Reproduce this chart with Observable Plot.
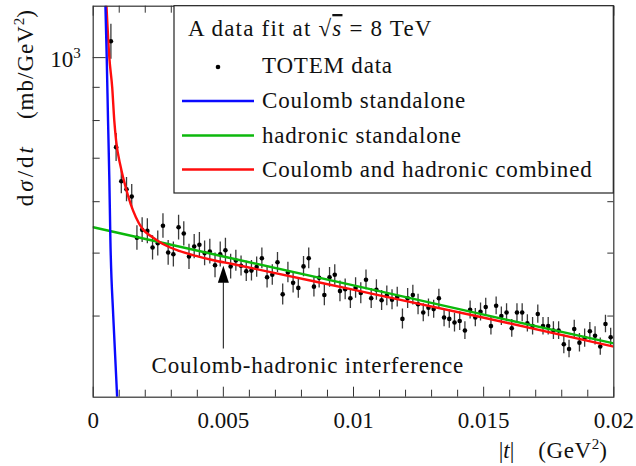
<!DOCTYPE html>
<html><head><meta charset="utf-8">
<script src="https://cdn.jsdelivr.net/npm/d3@7"></script>
<script src="https://cdn.jsdelivr.net/npm/@observablehq/plot@0.6"></script>
<style>
body{margin:0;background:#fff;}
#chart{position:relative;width:636px;height:466px;}
</style></head><body><div id="chart"></div>
<script>
// ---- data ----
const tData = [
0.00068,0.00088,0.00108,0.00128,0.00148,0.00168,0.00188,0.00208,0.00228,0.00248,
0.00268,0.00288,0.00308,0.00328,0.00348,0.00368,0.00388,0.00408,0.00428,0.00448,
0.00468,0.00488,0.00508,0.00528,0.00548,0.00568,0.00588,0.00608,0.00628,0.00648,
0.00668,0.00688,0.00708,0.00728,0.00748,0.00768,0.00788,0.00808,0.00828,0.00848,
0.00868,0.00888,0.00908,0.00928,0.00948,0.00968,0.00988,0.01008,0.01028,0.01048,
0.01068,0.01088,0.01108,0.01128,0.01148,0.01168,0.01188,0.01208,0.01228,0.01248,
0.01268,0.01288,0.01308,0.01328,0.01348,0.01368,0.01388,0.01408,0.01428,0.01448,
0.01468,0.01488,0.01508,0.01528,0.01548,0.01568,0.01588,0.01608,0.01628,0.01648,
0.01668,0.01688,0.01708,0.01728,0.01748,0.01768,0.01788,0.01808,0.01828,0.01848,
0.01868,0.01888,0.01908,0.01928,0.01948,0.01968,0.01988];
const sigmaData = [
1060,728,645,627,611,528,543,541,510,518,
551,501,498,548,536,494,512,515,500,503,
479,498,505,477,487,478,469,470,476,491,
459,463,484,432,467,450,442,477,491,444,
458,431,459,463,437,440,426,442,434,455,
426,439,423,430,424,428,396,426,431,417,
405,412,410,426,398,396,391,393,380,409,
398,406,413,386,415,400,405,383,405,405,
390,386,403,386,386,380,380,362,356,382,
364,370,379,373,359,389,371];
const sigmaErr = [
66,36,28,27,27,23,24,24,22,23,
24,22,22,24,23,22,22,23,22,22,
21,22,22,21,18,17,17,17,17,18,
17,17,17,16,17,16,16,17,18,16,
16,16,16,17,16,16,15,16,16,16,
15,16,15,15,15,15,14,15,15,15,
13,13,13,14,13,13,13,13,12,13,
13,13,13,12,13,13,13,12,13,13,
12,12,13,12,12,12,12,12,11,12,
12,12,12,12,11,12,12];

const coulombT     = [0.00047,0.00052,0.00057,0.00062,0.00066,0.00077,0.00092];
const coulombSigma = [1200,1000,800,650,525,400,300];
const hadronicT     = [0,0.005,0.01,0.015,0.02];
const hadronicSigma = [548,494,446,402,363];
const combinedT     = [0.00051,0.00062,0.00073,0.00081,0.00088,0.00106,0.00125,0.00144,0.00164,0.00189,0.00228,0.00266,0.0033,0.00395,0.00458,0.00535,0.00989,0.01484,0.02];
const combinedSigma = [1200,1000,900,800,745,678,631,595,568,545,529,517,504,495,488,481,440,399,359];

const xTicks = [0,0.005,0.01,0.015,0.02];
const xMinorTicks = [0.001,0.002,0.003,0.004,0.006,0.007,0.008,0.009,0.011,0.012,0.013,0.014,0.016,0.017,0.018,0.019];
const yMajorTicks = [1000];
const yMajorLabels = [["10","3"]];
const yMinorTicks = [400,500,600,700,800,900];
const arrowT = [0.005];
const arrowFrom = [356];
const arrowTo = [450];
const arrowTip = [478];

const legendTitle = "A data fit at ";
const legendLabels = ["TOTEM data","Coulomb standalone","hadronic standalone","Coulomb and hadronic combined"];
const seriesColors = ["#111","#0a0aff","#0cb80c","#ff0d0d"];
const annotationText = "Coulomb-hadronic interference";

// ---- tables ----
const points = tData.map((t,i)=>({t, s: sigmaData[i], lo: sigmaData[i]-sigmaErr[i], hi: sigmaData[i]+sigmaErr[i]}));
const zip = (a,b)=>a.map((t,i)=>({t, s:b[i]}));
const coulomb = zip(coulombT, coulombSigma);
const hadronic = zip(hadronicT, hadronicSigma);
const combined = zip(combinedT, combinedSigma);
const arrow = arrowT.map((t,i)=>({t, from: arrowFrom[i], to: arrowTo[i], tip: arrowTip[i]}));

const W = 636, H = 466;
const mL = 92.7, mR = 22.7, mT = 5.7, mB = 69.3;
const iw = W - mL - mR, ih = H - mT - mB;
const FONT = "'Liberation Serif', 'Times New Roman', serif";

const headSymbol = {draw(ctx){ ctx.moveTo(0,0); ctx.lineTo(-5.5,17); ctx.lineTo(5.5,17); ctx.closePath(); }};
const tickColor = "#333";

const chart = Plot.plot({
  width: W, height: H,
  marginLeft: mL, marginRight: mR, marginTop: mT, marginBottom: mB,
  style: {fontFamily: FONT, fontSize: "23px", color: "#111", background: "white", overflow: "visible"},
  x: {type: "linear", domain: [0, 0.02]},
  y: {type: "log", domain: [300, 1200], axis: null},
  marks: [
    // inward ticks
    Plot.ruleX(xTicks, {x: d=>d, insetTop: ih-10, stroke: tickColor}),
    Plot.ruleX(xMinorTicks, {x: d=>d, insetTop: ih-7, stroke: tickColor}),
    Plot.ruleX(xTicks, {x: d=>d, insetBottom: ih-10, stroke: tickColor}),
    Plot.ruleX(xMinorTicks, {x: d=>d, insetBottom: ih-7, stroke: tickColor}),
    Plot.ruleY(yMajorTicks, {y: d=>d, insetRight: iw-13, stroke: tickColor}),
    Plot.ruleY(yMinorTicks, {y: d=>d, insetRight: iw-7, stroke: tickColor}),
    Plot.ruleY(yMajorTicks, {y: d=>d, insetLeft: iw-8, stroke: tickColor}),
    Plot.ruleY(yMinorTicks, {y: d=>d, insetLeft: iw-6, stroke: tickColor}),
    // x tick labels
    Plot.axisX({ticks: xTicks, tickSize: 0, tickPadding: 14, tickFormat: d=>String(d), label: null, fontSize: 23}),
    // error bars + points
    Plot.ruleX(points, {x: "t", y1: "lo", y2: "hi", stroke: "#3a3a3a", strokeWidth: 1.3, clip: true}),
    Plot.dot(points, {x: "t", y: "s", r: 2.3, fill: "#000", clip: true}),
    // curves
    Plot.line(hadronic, {x: "t", y: "s", stroke: seriesColors[2], strokeWidth: 2.4, clip: true}),
    Plot.line(combined, {x: "t", y: "s", stroke: seriesColors[3], strokeWidth: 2.4, curve: "monotone-x", clip: true}),
    Plot.line(coulomb, {x: "t", y: "s", stroke: seriesColors[1], strokeWidth: 2.4, curve: "monotone-x", clip: true}),
    // annotation arrow
    Plot.ruleX(arrow, {x: "t", y1: "from", y2: "to", stroke: "#222", strokeWidth: 1.1}),
    Plot.dot(arrow, {x: "t", y: "tip", symbol: headSymbol, fill: "#000", stroke: "none", r: 5}),
    Plot.frame({stroke: "#333", strokeWidth: 1.2})
  ]
});
document.getElementById("chart").appendChild(chart);

const svg = d3.select(chart);
const xs = chart.scale("x"), ys = chart.scale("y");

// y tick label (10^3) placed through the y scale
yMajorTicks.forEach((v, i) => {
  const tl = svg.append("text").attr("x", mL - 12).attr("y", ys.apply(v) + 10)
    .attr("text-anchor", "end").attr("font-family", FONT).attr("font-size", 23).attr("fill", "#111");
  tl.append("tspan").text(yMajorLabels[i][0]);
  tl.append("tspan").attr("font-size", 15).attr("dy", -9).text(yMajorLabels[i][1]);
});

// axis titles
const yl = svg.append("text").attr("transform", "translate(33,10) rotate(-90)")
  .attr("text-anchor", "end").attr("font-family", FONT).attr("font-size", 23).attr("fill", "#111");
yl.append("tspan").attr("letter-spacing", 3).text("d");
yl.append("tspan").attr("letter-spacing", 3).attr("font-style", "italic").text("σ");
yl.append("tspan").attr("letter-spacing", 3).text("/d");
yl.append("tspan").attr("font-style", "italic").text("t");
yl.append("tspan").attr("dx", 28).attr("letter-spacing", 1).text("(mb/GeV");
yl.append("tspan").attr("font-size", 15).attr("dy", -9).text("2");
yl.append("tspan").attr("dy", 9).text(")");

const xl = svg.append("text").attr("x", 607).attr("y", 458)
  .attr("text-anchor", "end").attr("font-family", FONT).attr("font-size", 23).attr("fill", "#111");
xl.append("tspan").text("|");
xl.append("tspan").attr("font-style", "italic").text("t");
xl.append("tspan").text("|");
xl.append("tspan").attr("dx", 24).attr("letter-spacing", 0.6).text("(GeV");
xl.append("tspan").attr("font-size", 15).attr("dy", -9).text("2");
xl.append("tspan").attr("dy", 9).text(")");

// annotation text
svg.append("text").attr("x", xs.apply(arrowT[0]) + 85).attr("y", 373)
  .attr("text-anchor", "middle").attr("font-family", FONT).attr("font-size", 23)
  .attr("letter-spacing", 0.8).attr("fill", "#111").text(annotationText);

// legend
const lg = svg.append("g").attr("font-family", FONT).attr("font-size", 23).attr("fill", "#111")
  .attr("text-anchor", "start");
lg.append("rect").attr("x", 174).attr("y", mT).attr("width", W - mR - 174).attr("height", 193 - mT)
  .attr("fill", "white").attr("stroke", "#222").attr("stroke-width", 1.2);
const title = lg.append("text").attr("x", 188).attr("y", 36).attr("letter-spacing", 1.2).attr("text-anchor", "start");
title.append("tspan").text(legendTitle + "√");
title.append("tspan").attr("font-style", "italic").attr("text-decoration", "overline").text("s");
title.append("tspan").text(" = 8 TeV");
const rowsY = [73, 108, 142.5, 176.5];
legendLabels.forEach((lab, i) => {
  lg.append("text").attr("x", 262).attr("y", rowsY[i]).attr("letter-spacing", 0.8)
    .attr("text-anchor", "start").text(lab);
  if (i === 0) {
    lg.append("circle").attr("cx", 218).attr("cy", rowsY[i] - 6).attr("r", 2.3).attr("fill", "#000");
  } else {
    lg.append("line").attr("x1", 182).attr("x2", 254).attr("y1", rowsY[i] - 7).attr("y2", rowsY[i] - 7)
      .attr("stroke", seriesColors[i]).attr("stroke-width", 2.4);
  }
});
</script></body></html>
